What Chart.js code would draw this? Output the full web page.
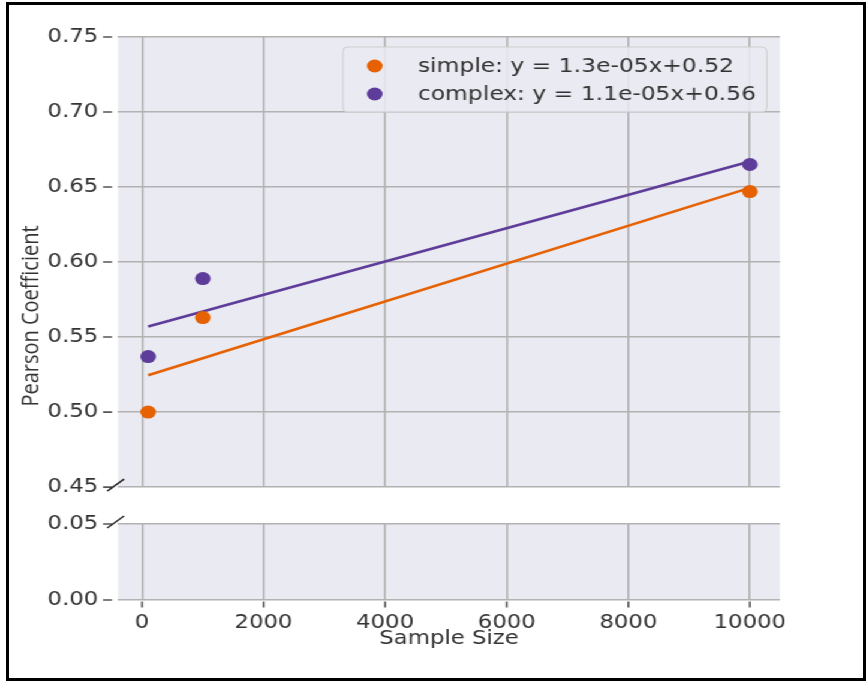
<!DOCTYPE html>
<html>
<head>
<meta charset="utf-8">
<title>Pearson Coefficient vs Sample Size</title>
<script src="https://cdn.jsdelivr.net/npm/chart.js"></script>
<style>
  html, body { margin: 0; padding: 0; background: #fff; }
  body { width: 866px; height: 683px; position: relative; overflow: hidden; }
  #frame { position: absolute; left: 6px; top: 2px; width: 854px; height: 673px; border: 3px solid #000; }
  #plots { position: absolute; left: 0; top: 0; width: 722px; height: 683px; transform: scaleX(1.19945); transform-origin: 0 0; }
  #plots canvas { position: absolute; left: 0; }
</style>
</head>
<body>
<div id="frame"></div>
<div id="plots">
  <canvas id="upper" width="722" height="515" style="top:0"></canvas>
  <canvas id="lower" width="722" height="193" style="top:490px"></canvas>
</div>
<script>
'use strict';

// measurements
var sampleSizes = [100, 1000, 10000];
var simpleScores = [0.500, 0.563, 0.647];
var complexScores = [0.537, 0.589, 0.665];

// axes
var xTicks = [0, 2000, 4000, 6000, 8000, 10000];
var yTicksUpper = [0.45, 0.50, 0.55, 0.60, 0.65, 0.70, 0.75];
var yTicksLower = [0.00, 0.05];

var simpleColor = '#e66101';
var complexColor = '#5e3c99';
var textColor = '#333333';
var gridColor = '#b2b2b2';
var panelColor = '#eaeaf2';

// canvases are drawn narrow and widened by the css transform
var STRETCH = 866 / 722;
var PLOT_LEFT = 118 / STRETCH;
var PLOT_RIGHT = 780 / STRETCH;
var X_MIN = -395, X_MAX = 10495;

function linearFit(xs, ys) {
  var n = xs.length, mx = 0, my = 0, sxy = 0, sxx = 0;
  for (var i = 0; i < n; i++) { mx += xs[i] / n; my += ys[i] / n; }
  for (var j = 0; j < n; j++) {
    sxy += (xs[j] - mx) * (ys[j] - my);
    sxx += (xs[j] - mx) * (xs[j] - mx);
  }
  var slope = sxy / sxx;
  return { slope: slope, intercept: my - slope * mx };
}

function fitLabel(name, fit) {
  var slope = fit.slope.toExponential(1).replace(/e([+-])(\d)$/, function(m, sign, d) {
    return 'e' + sign + '0' + d;
  });
  return name + ': y = ' + slope + 'x+' + fit.intercept.toFixed(2);
}

function toPoints(xs, ys) {
  return xs.map(function(x, i) { return { x: x, y: ys[i] }; });
}

function fitPoints(fit) {
  var ends = [sampleSizes[0], sampleSizes[sampleSizes.length - 1]];
  return ends.map(function(x) { return { x: x, y: fit.intercept + fit.slope * x }; });
}

function useTicks(values) {
  return function(scale) {
    scale.ticks = values.map(function(v) { return { value: v }; });
  };
}

var simpleFit = linearFit(sampleSizes, simpleScores);
var complexFit = linearFit(sampleSizes, complexScores);

var tickFont = { family: 'DejaVu Sans', size: 19 };

// shaded panel behind the grid
var panelBackground = {
  id: 'panelBackground',
  beforeDraw: function(chart) {
    var a = chart.chartArea, ctx = chart.ctx;
    ctx.save();
    ctx.fillStyle = panelColor;
    ctx.fillRect(a.left, a.top, a.right - a.left, a.bottom - a.top);
    ctx.restore();
  }
};

// short tick dashes plus the slashes where the y axis is cut
var axisMarks = {
  id: 'axisMarks',
  afterDraw: function(chart, args, opts) {
    var ctx = chart.ctx, a = chart.chartArea, xs = chart.scales.x, ys = chart.scales.y;
    ctx.save();
    ctx.strokeStyle = '#555555';
    ctx.lineWidth = 1.6;
    ctx.beginPath();
    ys.ticks.forEach(function(t) {
      var y = ys.getPixelForValue(t.value);
      ctx.moveTo(a.left - 12.5, y);
      ctx.lineTo(a.left - 5, y);
    });
    if (opts.xMarks) {
      xs.ticks.forEach(function(t) {
        var x = xs.getPixelForValue(t.value);
        ctx.moveTo(x, a.bottom + 1.5);
        ctx.lineTo(x, a.bottom + 7.5);
      });
    }
    ctx.stroke();
    ctx.strokeStyle = '#222222';
    ctx.lineWidth = 1.4;
    (opts.breaks || []).forEach(function(v) {
      var y = ys.getPixelForValue(v);
      ctx.beginPath();
      ctx.moveTo(a.left - 9, y + 4);
      ctx.lineTo(a.left + 5, y - 8);
      ctx.stroke();
    });
    ctx.restore();
  }
};

// boxed legend in the upper right corner, scatter series only
var legendBox = {
  id: 'legendBox',
  afterDatasetsDraw: function(chart) {
    var ctx = chart.ctx, a = chart.chartArea;
    var items = chart.data.datasets.filter(function(d) { return !d.showLine; });
    ctx.save();
    ctx.font = '19.5px "DejaVu Sans"';
    var textW = 0;
    items.forEach(function(d) { textW = Math.max(textW, ctx.measureText(d.label).width); });
    var w = 62.5 + textW + 9, h = 65, right = a.right - 11, top = a.top + 10, left = right - w;
    ctx.beginPath();
    ctx.roundRect(left, top, w, h, 4);
    ctx.fillStyle = 'rgba(234,234,242,0.85)';
    ctx.fill();
    ctx.strokeStyle = '#cfcfcf';
    ctx.lineWidth = 1;
    ctx.stroke();
    ctx.textBaseline = 'middle';
    items.forEach(function(d, i) {
      var y = top + 19 + i * 28;
      ctx.beginPath();
      ctx.arc(left + 26.5, y, 6.5, 0, Math.PI * 2);
      ctx.fillStyle = d.backgroundColor;
      ctx.fill();
      ctx.fillStyle = textColor;
      ctx.fillText(d.label, left + 62.5, y + 1);
    });
    ctx.restore();
  }
};

// y title spans both panels
var sharedYTitle = {
  id: 'sharedYTitle',
  afterDraw: function(chart) {
    var ctx = chart.ctx;
    ctx.save();
    ctx.translate(32 / STRETCH, 316);
    ctx.rotate(-Math.PI / 2);
    ctx.font = '20px "Open Sans"';
    ctx.fillStyle = textColor;
    ctx.textAlign = 'center';
    ctx.textBaseline = 'middle';
    ctx.fillText('Pearson Coefficient', 0, 0);
    ctx.restore();
  }
};

function xScale(showLabels) {
  var s = {
    type: 'linear',
    min: X_MIN,
    max: X_MAX,
    afterBuildTicks: useTicks(xTicks),
    grid: { color: gridColor, lineWidth: 1.6, drawTicks: false },
    border: { display: false },
    ticks: {
      display: showLabels,
      font: tickFont,
      color: textColor,
      padding: 12,
      maxRotation: 0,
      callback: function(v) { return String(v); }
    }
  };
  if (showLabels) {
    s.title = { display: true, text: 'Sample Size', font: { family: 'DejaVu Sans', size: 19 }, color: textColor, padding: { top: 0, bottom: 33 } };
    s.afterFit = function(scale) { scale.height = 83; };
  } else {
    s.afterFit = function(scale) { scale.height = 0; };
  }
  return s;
}

function yScale(lo, hi, values) {
  return {
    min: lo,
    max: hi,
    afterBuildTicks: useTicks(values),
    grid: { color: gridColor, lineWidth: 1.6, drawTicks: false },
    border: { display: false },
    ticks: {
      font: tickFont,
      color: textColor,
      padding: 16.5,
      callback: function(v) { return v.toFixed(2); }
    },
    afterFit: function(scale) { scale.width = PLOT_LEFT; }
  };
}

var pointStyle = { pointRadius: 6.5, pointHoverRadius: 6.5, borderWidth: 0, order: 0 };
var lineStyle = { showLine: true, pointRadius: 0, pointHoverRadius: 0, borderWidth: 2.6, order: 1 };

new Chart(document.getElementById('upper'), {
  type: 'scatter',
  data: {
    datasets: [
      Object.assign({ label: fitLabel('simple', simpleFit), data: toPoints(sampleSizes, simpleScores), backgroundColor: simpleColor, borderColor: simpleColor }, pointStyle),
      Object.assign({ label: fitLabel('complex', complexFit), data: toPoints(sampleSizes, complexScores), backgroundColor: complexColor, borderColor: complexColor }, pointStyle),
      Object.assign({ label: 'simple fit', data: fitPoints(simpleFit), borderColor: simpleColor, backgroundColor: simpleColor }, lineStyle),
      Object.assign({ label: 'complex fit', data: fitPoints(complexFit), borderColor: complexColor, backgroundColor: complexColor }, lineStyle)
    ]
  },
  options: {
    responsive: false,
    animation: false,
    layout: { padding: { top: 37, right: 722 - PLOT_RIGHT, bottom: 0, left: 0 } },
    scales: {
      x: xScale(false),
      y: yScale(0.45, 0.75, yTicksUpper)
    },
    plugins: {
      legend: { display: false },
      tooltip: { enabled: false },
      axisMarks: { xMarks: false, breaks: [0.45] }
    }
  },
  plugins: [panelBackground, axisMarks, legendBox, sharedYTitle]
});

new Chart(document.getElementById('lower'), {
  type: 'scatter',
  data: { datasets: [{ data: [] }] },
  options: {
    responsive: false,
    animation: false,
    layout: { padding: { top: 34, right: 722 - PLOT_RIGHT, bottom: 0, left: 0 } },
    scales: {
      x: xScale(true),
      y: yScale(0, 0.05, yTicksLower)
    },
    plugins: {
      legend: { display: false },
      tooltip: { enabled: false },
      axisMarks: { xMarks: true, breaks: [0.05] }
    }
  },
  plugins: [panelBackground, axisMarks]
});
</script>
</body>
</html>
